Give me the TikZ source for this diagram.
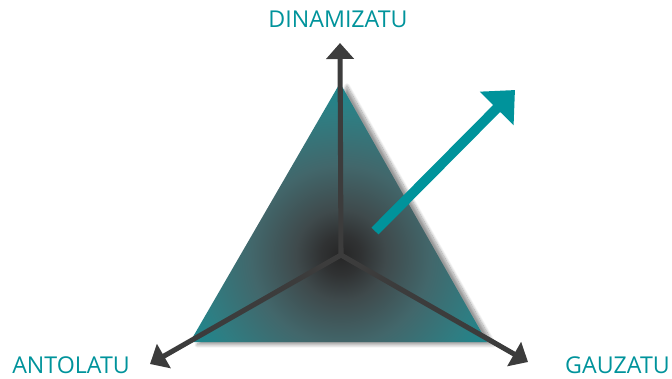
\documentclass[tikz,border=0pt]{standalone}
\usepackage{fontspec}
\setmainfont{Open Sans}
\usetikzlibrary{arrows.meta,positioning,shadows.blur}
\definecolor{tealink}{HTML}{00939B}
\definecolor{axisgray}{HTML}{3C3C3C}
\definecolor{glowa}{HTML}{262626}
\definecolor{glowb}{HTML}{303233}
\definecolor{glowc}{HTML}{3F4A4C}
\definecolor{glowd}{HTML}{42676B}
\definecolor{glowe}{HTML}{2F7D82}
\definecolor{glowf}{HTML}{178A91}
\definecolor{glowg}{HTML}{0E9197}
\pgfdeclareradialshading{triglow}{\pgfpoint{0bp}{0bp}}{%
  color(0bp)=(glowa); color(2.4bp)=(glowb); color(5.4bp)=(glowc);
  color(10.7bp)=(glowd); color(16.7bp)=(glowe); color(21.4bp)=(glowf);
  color(25bp)=(glowg); color(50bp)=(glowg)}
\tikzset{
  axislabel/.style={text=tealink,font=\fontsize{16.5}{19}\selectfont,inner sep=0pt},
  axisarr/.style={-{Triangle[length=4mm,width=6.8mm]},line width=3.6pt,draw=axisgray},
  growarr/.style={-{Triangle[length=6.5mm,width=11.5mm]},line width=7pt,draw=tealink}
}
\begin{document}
\begin{tikzpicture}[x=0.025cm,y=-0.025cm]
  \useasboundingbox (0,0) rectangle (672,378);
  % corners of the triangle and the middle point
  \coordinate (top) at (340,83);
  \coordinate (left) at (190,342);
  \coordinate (right) at (487,342);
  \coordinate (mid) at (341,255);
  % shadow, then the shaded face
  \path[blur shadow={shadow xshift=5pt,shadow yshift=-2pt,shadow blur steps=12,shadow opacity=40}]
    (top) -- (left) -- (right) -- cycle;
  \begin{scope}
    \clip (top) -- (left) -- (right) -- cycle;
    \shade[shading=triglow] (mid) circle (210);
  \end{scope}
  % axis ends
  \coordinate (dinEnd) at (340,43);
  \coordinate (antEnd) at (150,364);
  \coordinate (gauEnd) at (528,362);
  \draw[axisarr] (mid) -- (dinEnd);
  \draw[axisarr] (mid) -- (antEnd);
  \draw[axisarr] (mid) -- (gauEnd);
  % growth arrow
  \coordinate (growStart) at (375,231);
  \coordinate (growEnd) at (515,90);
  \draw[growarr] (growStart) -- (growEnd);
  % labels
  \node[axislabel,anchor=base] (din) at (338,27) {DINAMIZATU};
  \node[axislabel,anchor=base west] (ant) at (12,373) {ANTOLATU};
  \node[axislabel,anchor=base east] (gau) at (670,373) {GAUZATU};
\end{tikzpicture}
\end{document}
